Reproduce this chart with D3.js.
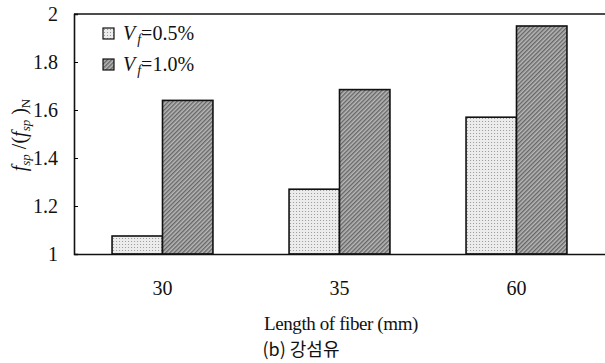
<!DOCTYPE html>
<html>
<head>
<meta charset="utf-8">
<script src="https://cdn.jsdelivr.net/npm/d3@7"></script>
<style>
  body { margin: 0; background: #fff; }
  svg text { font-family: "Liberation Serif", "DejaVu Serif", serif !important; fill: #111; }
  svg text.kr { font-family: "Noto Sans CJK KR", "Noto Sans", sans-serif !important; }
</style>
</head>
<body>
<svg id="chart" width="605" height="363"></svg>
<script>
// fiber lengths (mm) and the two fiber volume fractions
var lengths = ["30", "35", "60"];
var seriesNames = ["0.5%", "1.0%"];
var vf05 = [1.075, 1.27, 1.57];
var vf10 = [1.64, 1.685, 1.95];
var yTicks = [1, 1.2, 1.4, 1.6, 1.8, 2];

var svg = d3.select("#chart");
var margin = { left: 74, top: 14, right: 0, bottom: 109 };
var W = 605, H = 363;

var x = d3.scaleBand().domain(lengths).range([margin.left, W - margin.right]).paddingInner(0.43).paddingOuter(0.215);
var xs = d3.scaleBand().domain(seriesNames).range([0, x.bandwidth()]);
var y = d3.scaleLinear().domain([1, 2]).range([H - margin.bottom, margin.top]);

// fill patterns
var defs = svg.append("defs");
var dots = defs.append("pattern").attr("id", "dots").attr("patternUnits", "userSpaceOnUse")
  .attr("width", 3).attr("height", 3);
dots.append("rect").attr("width", 3).attr("height", 3).attr("fill", "#ececec");
dots.append("rect").attr("x", 1).attr("y", 1).attr("width", 1).attr("height", 1).attr("fill", "#9a9a9a");

var hatch = defs.append("pattern").attr("id", "hatch").attr("patternUnits", "userSpaceOnUse")
  .attr("width", 3).attr("height", 3).attr("patternTransform", "rotate(45)");
hatch.append("rect").attr("width", 3).attr("height", 3).attr("fill", "#b8b8b8");
hatch.append("rect").attr("width", 1.4).attr("height", 3).attr("fill", "#666");

var fills = { "0.5%": "url(#dots)", "1.0%": "url(#hatch)" };

// bars
var rows = lengths.map(function (l, i) {
  return [{ len: l, s: "0.5%", v: vf05[i] }, { len: l, s: "1.0%", v: vf10[i] }];
});
svg.append("g").selectAll("g").data(rows).enter().append("g")
  .attr("transform", function (d) { return "translate(" + x(d[0].len) + ",0)"; })
  .selectAll("rect").data(function (d) { return d; }).enter().append("rect")
  .attr("x", function (d) { return xs(d.s); })
  .attr("y", function (d) { return y(d.v); })
  .attr("width", xs.bandwidth())
  .attr("height", function (d) { return y(1) - y(d.v); })
  .attr("fill", function (d) { return fills[d.s]; })
  .attr("stroke", "#111").attr("stroke-width", 1.6);

// axes
var yAxis = svg.append("g").attr("transform", "translate(" + margin.left + ",0)")
  .call(d3.axisLeft(y).tickValues(yTicks).tickFormat(d3.format("")).tickSize(-4).tickPadding(16));
yAxis.attr("font-family", null);
yAxis.select(".domain").attr("stroke", "#111").attr("stroke-width", 1.6);
yAxis.selectAll("text").style("font-size", "20px");

var xAxis = svg.append("g").attr("transform", "translate(0," + y(1) + ")")
  .call(d3.axisBottom(x).tickSize(0).tickPadding(27));
xAxis.attr("font-family", null);
xAxis.select(".domain").attr("stroke", "#111").attr("stroke-width", 1.6);
xAxis.selectAll("text").style("font-size", "20px");

// top frame line
svg.append("line").attr("x1", margin.left).attr("x2", W).attr("y1", y(2)).attr("y2", y(2))
  .attr("stroke", "#111").attr("stroke-width", 1.6);

// legend
var legend = svg.append("g").selectAll("g").data(seriesNames).enter().append("g")
  .attr("transform", function (d, i) { return "translate(103," + (28 + i * 31) + ")"; });
legend.append("rect").attr("width", 11).attr("height", 11)
  .attr("fill", function (d) { return fills[d]; }).attr("stroke", "#111").attr("stroke-width", 1.2);
var lt = legend.append("text").attr("x", 20).attr("y", 12).style("font-size", "20px");
lt.append("tspan").style("font-style", "italic").text("V");
lt.append("tspan").style("font-style", "italic").style("font-size", "14px").attr("dx", 2).attr("dy", 4).text("f");
lt.append("tspan").attr("dy", -4).text(function (d) { return "=" + d; });

// y axis title
var yt = svg.append("text").attr("transform", "translate(26,135) rotate(-90)")
  .attr("text-anchor", "middle").style("font-size", "20px");
yt.append("tspan").style("font-style", "italic").text("f");
yt.append("tspan").style("font-style", "italic").style("font-size", "13px").attr("dy", 4).text("sp");
yt.append("tspan").attr("dy", -4).text(" /(");
yt.append("tspan").style("font-style", "italic").text("f");
yt.append("tspan").style("font-style", "italic").style("font-size", "13px").attr("dy", 4).text("sp");
yt.append("tspan").attr("dy", -4).text(" )");
yt.append("tspan").style("font-size", "13px").attr("dy", 4).text("N");

// x axis title and caption
svg.append("text").attr("x", 341).attr("y", 330).attr("text-anchor", "middle")
  .style("font-size", "19px").style("letter-spacing", "-0.4px").text("Length of fiber (mm)");
svg.append("text").attr("class", "kr").attr("x", 301).attr("y", 356).attr("text-anchor", "middle")
  .style("font-size", "18px")
  .text("(b) 강섬유");
</script>
</body>
</html>
